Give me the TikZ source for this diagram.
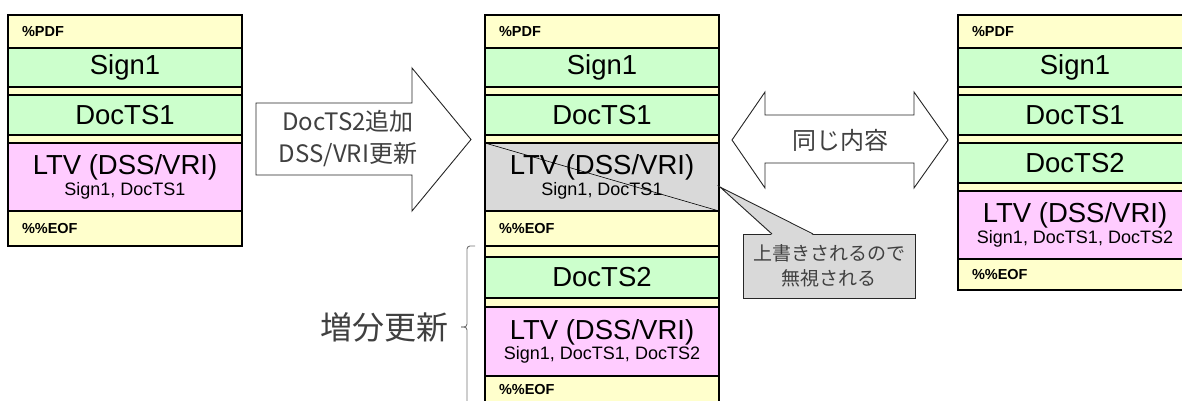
\documentclass[tikz,border=0pt]{standalone}
\usepackage{fontspec}
\setmainfont{Liberation Sans}
\newfontfamily\jpfont{Noto Sans CJK JP}
\usetikzlibrary{positioning}
\definecolor{pdfyellow}{HTML}{FFFFCC}
\definecolor{siggreen}{HTML}{CCFFCC}
\definecolor{ltvpink}{HTML}{FFCCFF}
\definecolor{oldgray}{HTML}{D9D9D9}
\definecolor{jptext}{HTML}{404040}

\begin{document}
\begin{tikzpicture}[x=1pt,y=-1pt,
  frame/.style={draw,fill=pdfyellow,line width=1.2pt},
  band/.style={rectangle,draw,fill=pdfyellow,line width=1.2pt,anchor=north west,inner sep=0pt,outer sep=0pt, text width=206pt,inner xsep=14pt,align=left,font=\bfseries\fontsize{14.5}{14}\selectfont},
  sigbox/.style={rectangle,draw,fill=siggreen,line width=1.2pt,anchor=north west,inner sep=0pt,outer sep=0pt, minimum width=234pt,minimum height=39pt,font=\fontsize{27.5}{27}\selectfont},
  ltvbox/.style={sigbox,fill=ltvpink,minimum height=68pt,align=center,font=\fontsize{27.5}{20.5}\selectfont},
  blockarrow/.style={draw=black!85,fill=white,line width=0.9pt,line join=miter},
  jplabel/.style={font=\jpfont\fontsize{24}{32}\selectfont,text=jptext,align=center},
  note/.style={rectangle,draw=black!85,fill=oldgray,line width=0.9pt,minimum width=172pt,minimum height=64pt, font=\jpfont\fontsize{19}{25}\selectfont,text=jptext,align=center}
]
  \useasboundingbox (0,0) rectangle (1182,401);

  % original file
  \draw[frame] (8,15) rectangle (242,246);
  \node[band,minimum height=33pt](pdfA) at (8,15)  {\%PDF};
  \node[sigbox](signA)               at (8,48)  {Sign1};
  \node[sigbox,minimum height=40pt](docA) at (8,95) {DocTS1};
  \node[ltvbox](ltvA)                at (8,143) {LTV (DSS/VRI)\\{\fontsize{18}{18}\selectfont Sign1, DocTS1}};
  \node[band,minimum height=35pt](eofA) at (8,211) {\%\%EOF};

  % after incremental update
  \draw[frame] (485,15) rectangle (719,430);
  \node[band,minimum height=33pt](pdfB) at (485,15)  {\%PDF};
  \node[sigbox](signB)               at (485,48)  {Sign1};
  \node[sigbox,minimum height=40pt](docB) at (485,95) {DocTS1};
  \node[ltvbox,fill=oldgray](ltvB)   at (485,143) {LTV (DSS/VRI)\\{\fontsize{18}{18}\selectfont Sign1, DocTS1}};
  \node[band,minimum height=35pt](eofB) at (485,211) {\%\%EOF};
  \node[sigbox,minimum height=41pt](docB2) at (485,257) {DocTS2};
  \node[ltvbox,minimum height=69pt](ltvB2) at (485,307) {LTV (DSS/VRI)\\{\fontsize{18}{18}\selectfont Sign1, DocTS1, DocTS2}};
  \node[band,minimum height=28pt](eofB2) at (485,376) {\%\%EOF};
  \draw[line width=0.6pt] (ltvB.north west) -- (ltvB.south east);

  % equivalent file
  \draw[frame] (958,15) rectangle (1192,290);
  \node[band,minimum height=33pt](pdfC) at (958,15)  {\%PDF};
  \node[sigbox](signC)               at (958,48)  {Sign1};
  \node[sigbox,minimum height=40pt](docC)  at (958,95)  {DocTS1};
  \node[sigbox,minimum height=40pt](docC2) at (958,143) {DocTS2};
  \node[ltvbox](ltvC)                at (958,191) {LTV (DSS/VRI)\\{\fontsize{18}{18}\selectfont Sign1, DocTS1, DocTS2}};
  \node[band,minimum height=31pt](eofC) at (958,259) {\%\%EOF};

  % arrows
  \draw[blockarrow] (256,103) -- (412,103) -- (412,68) -- (471,139.5) -- (412,211) -- (412,175) -- (256,175) -- cycle;
  \node[jplabel](addlbl) at (348,139) {DocTS2追加\\DSS/VRI更新};
  \draw[blockarrow] (732,140) -- (765,92) -- (765,115) -- (914,115) -- (914,92) -- (948,140)
    -- (914,188) -- (914,163) -- (765,163) -- (765,188) -- cycle;
  \node[jplabel](samelbl) at (840,140) {同じ内容};

  % callout
  \node[note](ignore) at (829,266) {上書きされるので\\無視される};
  \coordinate (tip) at ([xshift=1pt,yshift=-10pt]ltvB.east);
  \fill[oldgray] (772,235) -- (tip) -- (813,235) -- cycle;
  \draw[black!85,line width=0.9pt,line join=miter] (772,234) -- (tip) -- (813,234);

  % brace
  \draw[black!55,line width=0.9pt,rounded corners=3pt] (475,246) -| (467,327) -- (461,327);
  \draw[black!55,line width=0.9pt,rounded corners=3pt] (461,327) -- (467,327) |- (475,408);
  \node[font=\jpfont\fontsize{32}{32}\selectfont,text=jptext](inclbl) at (384,327) {増分更新};
\end{tikzpicture}
\end{document}
